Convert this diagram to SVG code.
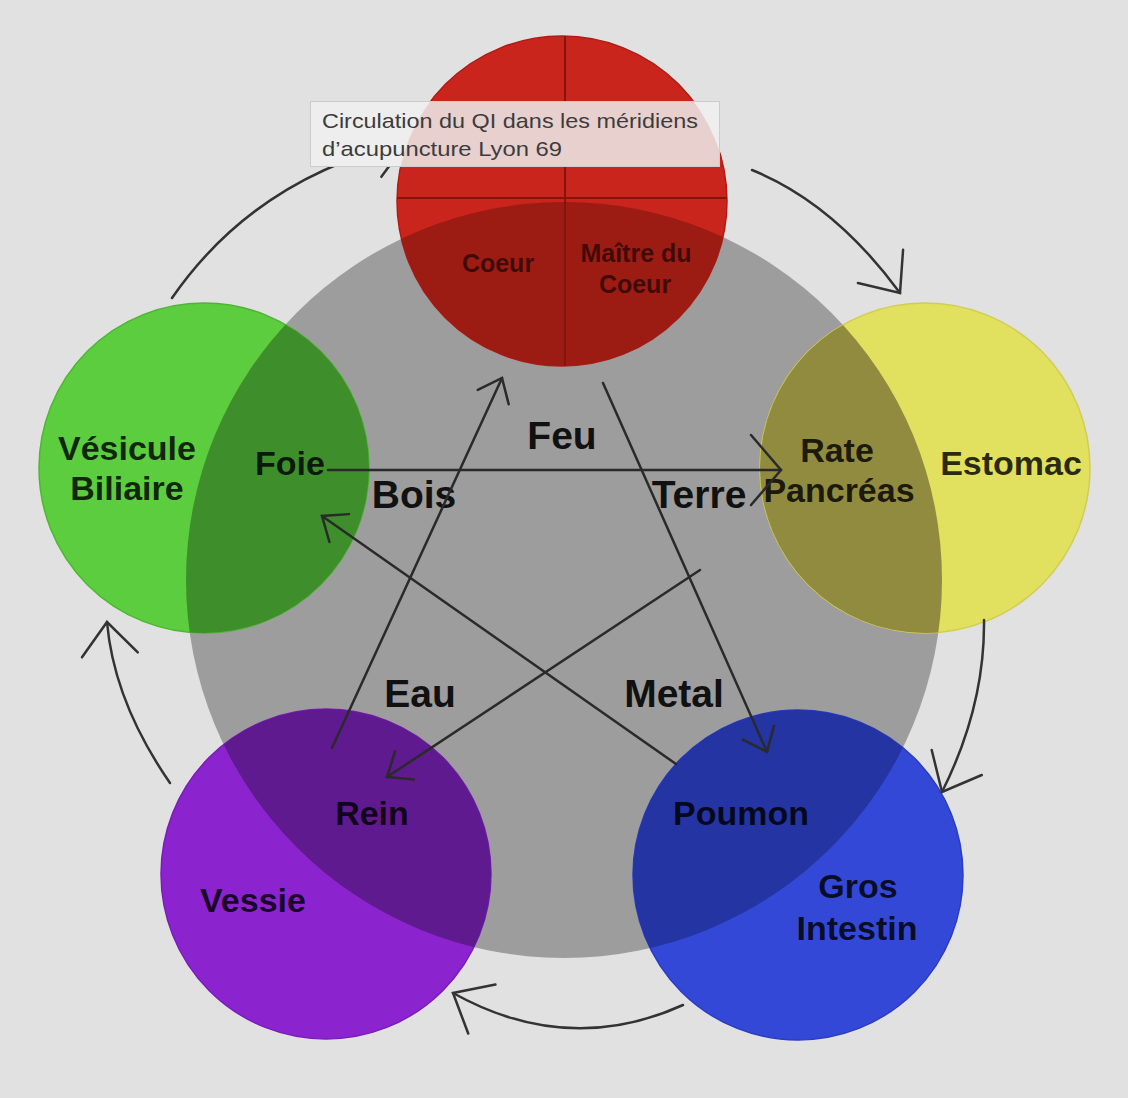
<svg xmlns="http://www.w3.org/2000/svg" width="1128" height="1098" viewBox="0 0 1128 1098">
<defs>
<style>
.org{font-family:"Liberation Sans",Arial,sans-serif;font-weight:bold;font-size:34px;fill:#000;fill-opacity:0.82;text-anchor:middle}
.sm{font-family:"Liberation Sans",Arial,sans-serif;font-weight:bold;font-size:25px;fill:#000;fill-opacity:0.6;text-anchor:middle}
.el{font-family:"Liberation Sans",Arial,sans-serif;font-weight:bold;font-size:39px;fill:#111;text-anchor:middle}
.con{fill:none;stroke:#2a2a2a;stroke-width:2.5;stroke-linecap:round}
.arc{fill:none;stroke:#333;stroke-width:2.5;stroke-linecap:round}
.tip{fill:none;stroke-linecap:round;stroke-linejoin:miter}
.tt{font-family:"Liberation Sans",Arial,sans-serif;font-size:21px;fill:#3c3c3c}
</style>
<marker id="arrowS" markerUnits="userSpaceOnUse" markerWidth="60" markerHeight="60" refX="0" refY="0" viewBox="-30 -30 60 60" orient="auto" overflow="visible">
<path class="tip" d="M-21,-17 L0,0 L-21,17" stroke="#2a2a2a" stroke-width="2.5"/>
</marker>
<marker id="arrowH" markerUnits="userSpaceOnUse" markerWidth="80" markerHeight="80" refX="0" refY="0" viewBox="-40 -40 80 80" orient="auto" overflow="visible">
<path class="tip" d="M-30,-35 L0,0 L-30,35" stroke="#2a2a2a" stroke-width="2.5"/>
</marker>
<marker id="arrowL" markerUnits="userSpaceOnUse" markerWidth="80" markerHeight="80" refX="0" refY="0" viewBox="-40 -40 80 80" orient="auto" overflow="visible">
<path class="tip" d="M-33,-28 L0,0 L-33,28" stroke="#333" stroke-width="2.5"/>
</marker>
<clipPath id="bigClip"><circle cx="564" cy="580" r="378"/></clipPath>
<clipPath id="redClip"><circle cx="562" cy="201" r="165"/></clipPath>
<clipPath id="ttClip"><rect x="310" y="101" width="410" height="66"/></clipPath>
</defs>

<rect x="0" y="0" width="1128" height="1098" fill="#e1e1e1"/>

<g id="element-circle">
<circle cx="564" cy="580" r="378" fill="#9d9d9d"/>
</g>

<g id="node-feu">
<circle cx="562" cy="201" r="165" fill="#c9251d" stroke="#b01c15" stroke-width="1.5"/>
<circle cx="562" cy="201" r="165" fill="#9c1b13" clip-path="url(#bigClip)"/>
<g clip-path="url(#redClip)" stroke="#86140e" stroke-width="2">
<line x1="565" y1="30" x2="565" y2="370"/>
<line x1="390" y1="198" x2="735" y2="198"/>
</g>
<text class="sm" x="498" y="272">Coeur</text>
<text class="sm" x="636" y="262">Maître du</text>
<text class="sm" x="635" y="293">Coeur</text>
</g>

<g id="node-bois">
<circle cx="204" cy="468" r="165" fill="#5ccd3e" stroke="#4fb634" stroke-width="1.5"/>
<circle cx="204" cy="468" r="165" fill="#3e8f2b" clip-path="url(#bigClip)"/>
<text class="org" x="127" y="460">Vésicule</text>
<text class="org" x="127" y="500">Biliaire</text>
<text class="org" x="290" y="475">Foie</text>
</g>

<g id="node-terre">
<circle cx="925" cy="468" r="165" fill="#e2e05f" stroke="#d0ce52" stroke-width="1.5"/>
<circle cx="925" cy="468" r="165" fill="#908b3f" clip-path="url(#bigClip)"/>
<text class="org" x="837" y="462">Rate</text>
<text class="org" x="839" y="502">Pancréas</text>
<text class="org" x="1011" y="475">Estomac</text>
</g>

<g id="node-eau">
<circle cx="326" cy="874" r="165" fill="#8b24cf" stroke="#7a1db8" stroke-width="1.5"/>
<circle cx="326" cy="874" r="165" fill="#5f1a90" clip-path="url(#bigClip)"/>
<text class="org" x="372" y="825">Rein</text>
<text class="org" x="253" y="912">Vessie</text>
</g>

<g id="node-metal">
<circle cx="798" cy="875" r="165" fill="#3448d8" stroke="#2b3cc0" stroke-width="1.5"/>
<circle cx="798" cy="875" r="165" fill="#2434a3" clip-path="url(#bigClip)"/>
<text class="org" x="741" y="825">Poumon</text>
<text class="org" x="858" y="898">Gros</text>
<text class="org" x="857" y="940">Intestin</text>
</g>

<g id="element-labels">
<text class="el" x="562" y="449">Feu</text>
<text class="el" x="414" y="508">Bois</text>
<text class="el" x="699" y="508">Terre</text>
<text class="el" x="420" y="707">Eau</text>
<text class="el" x="674" y="707">Metal</text>
</g>

<g id="connectors">
<path class="con" d="M328,470 L781,470" marker-end="url(#arrowH)"/>
<path class="con" d="M332,748 L502,378" marker-end="url(#arrowS)"/>
<path class="con" d="M603,383 L767,752" marker-end="url(#arrowS)"/>
<path class="con" d="M700,570 L387,777" marker-end="url(#arrowS)"/>
<path class="con" d="M676,764 L322,516" marker-end="url(#arrowS)"/>
<path class="arc" d="M172,298 Q255,178 407,142" marker-end="url(#arrowL)"/>
<path class="arc" d="M752,170 Q834,203 900,293" marker-end="url(#arrowL)"/>
<path class="arc" d="M984,620 Q985,706 942,792" marker-end="url(#arrowL)"/>
<path class="arc" d="M683,1005 Q568,1057 453,993" marker-end="url(#arrowL)"/>
<path class="arc" d="M170,783 Q114,702 107,622" marker-end="url(#arrowL)"/>
</g>

<g id="tooltip">
<rect x="310" y="101" width="410" height="66" fill="#eeeeee"/>
<circle cx="562" cy="201" r="165" fill="#c9251d" fill-opacity="0.15" clip-path="url(#ttClip)"/>
<rect x="310.5" y="101.5" width="409" height="65" fill="none" stroke="#cccccc" stroke-width="1"/>
<text class="tt" x="322" y="128" textLength="376" lengthAdjust="spacingAndGlyphs">Circulation du QI dans les méridiens</text>
<text class="tt" x="322" y="156" textLength="240" lengthAdjust="spacingAndGlyphs">d’acupuncture Lyon 69</text>
</g>
</svg>
